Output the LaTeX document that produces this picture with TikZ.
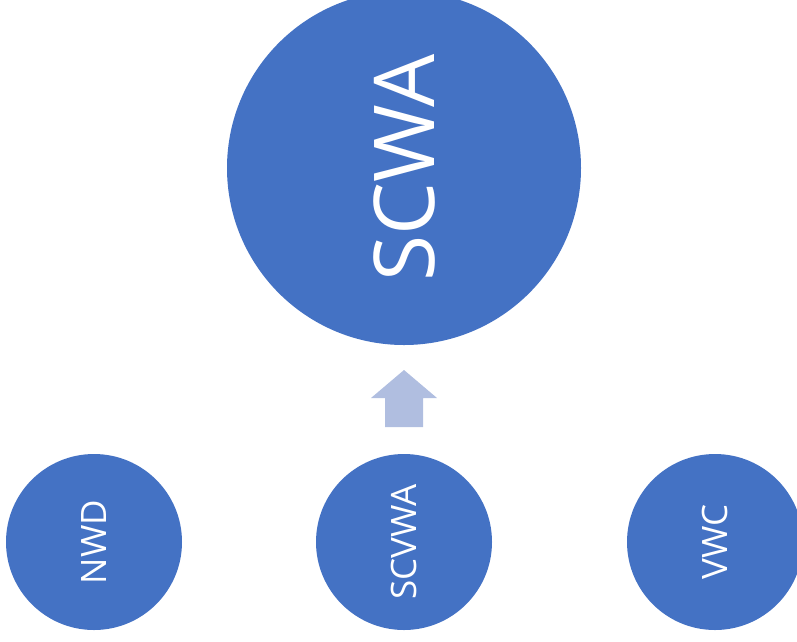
\documentclass[tikz,border=0pt]{standalone}
\usepackage{fontspec}
\setmainfont{Open Sans}
\usepackage{tikz}
\definecolor{nodeblue}{HTML}{4472C4}
\definecolor{arrowblue}{HTML}{B0BEE0}
\tikzset{main node/.style={circle,fill=nodeblue,draw=none,inner sep=0pt,text=white},
}

\begin{document}
\begin{tikzpicture}[x=1pt,y=-1pt,
	big node/.style={main node,minimum size=354pt,font=\fontsize{84}{84}\selectfont},
	small node/.style={main node,minimum size=176pt,font=\fontsize{35}{35}\selectfont}]
	
	\clip (0,0) rectangle (797,641);
	\useasboundingbox (0,0) rectangle (797,641);
	
	\node[big node] (scwa) at (404,168) {\rotatebox{90}{SCWA}};
	\node[small node] (nwd) at (94,542) {\rotatebox{90}{NWD}};
	\node[small node] (scvwa) at (404,542) {\rotatebox{90}{SCVWA}};
	\node[small node] (vwc) at (715,542) {\rotatebox{90}{VWC}};
	
	% block arrow
	\fill[arrowblue] (404,370) -- (437,398) -- (423,398) -- (423,427)
	-- (385,427) -- (385,398) -- (371,398) -- cycle;
\end{tikzpicture}
\end{document}
